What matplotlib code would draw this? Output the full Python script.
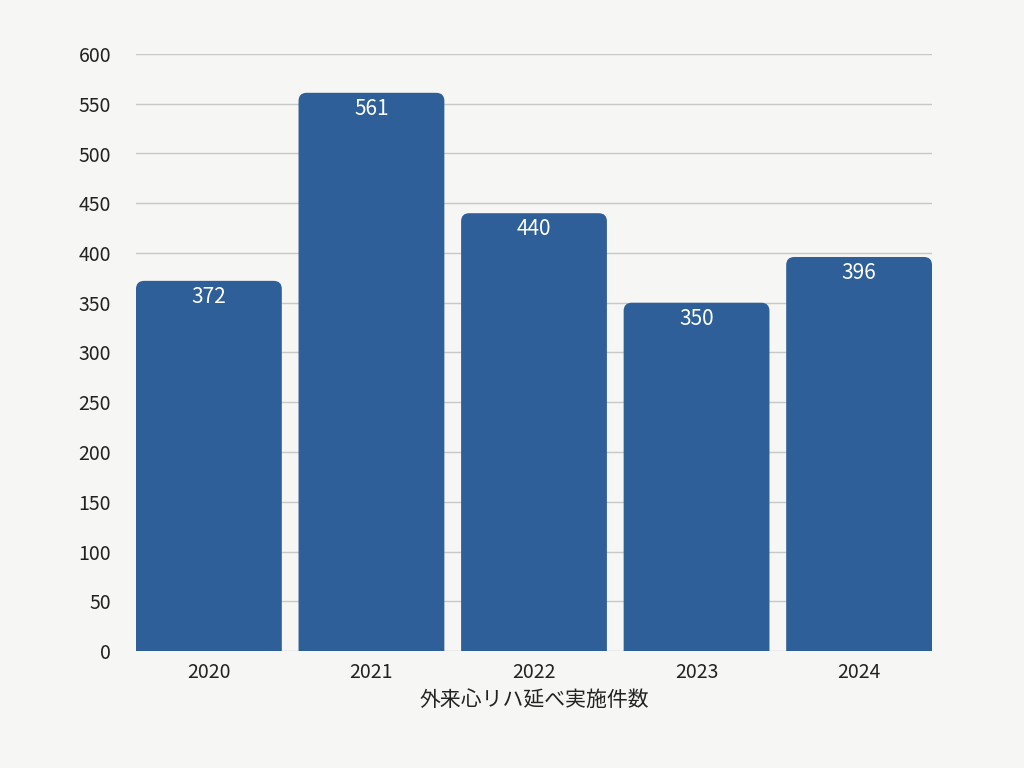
import matplotlib
matplotlib.use("Agg")
import matplotlib.pyplot as plt
from matplotlib.patches import FancyBboxPatch

plt.rcParams['font.family'] = ['Noto Sans CJK JP', 'DejaVu Sans']

years = ["2020", "2021", "2022", "2023", "2024"]
values = [372, 561, 440, 350, 396]
xlabel = "外来心リハ延べ実施件数"

bg = "#f6f6f4"
color = "#2e5f98"
fig = plt.figure(figsize=(10.24, 7.68), dpi=100, facecolor=bg)
ax = fig.add_axes([136/1024, 1-651/768, 796/1024, 597/768], facecolor=bg)
w = 0.897
ax.set_xlim(-w/2, len(years)-1+w/2)
ax.set_ylim(0, 600)
ax.set_yticks(range(0, 601, 50))
ax.yaxis.grid(True, color="#c8c8c8", lw=1)
ax.set_axisbelow(True)
for s in ax.spines.values():
    s.set_visible(False)
ax.tick_params(length=0, labelsize=14, colors="#222222")
ax.tick_params(axis='y', pad=18)
ax.tick_params(axis='x', pad=8)

aspect = (600/597)/(len(years)-1+w)*796/1
for i, v in enumerate(values):
    p = FancyBboxPatch((i-w/2, -20), w, v+20,
                       boxstyle="round,pad=0,rounding_size=0.05",
                       mutation_aspect=aspect, fc=color, ec="none", clip_on=True)
    ax.add_patch(p)
    ax.text(i, v-16, str(v), ha="center", va="center", color="white", fontsize=15)

ax.set_xticks(range(len(years)))
ax.set_xticklabels(years)
ax.set_xlabel(xlabel, fontsize=15, color="#222222", labelpad=4)
fig.savefig("out.png", dpi=100, facecolor=bg)
